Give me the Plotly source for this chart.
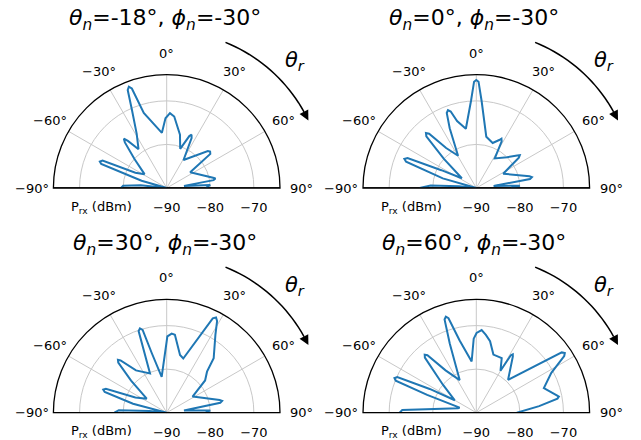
import math
import plotly.graph_objects as go

W, H = 641, 440

# ---------------- data ----------------
theta_1 = [-90, -87, -84, -80, -74, -69.9, -68.4, -66.9, -64, -58, -48, -42.5, -41, -39.5, -36, -29, -24, -21.7, -20.5, -19.3, -17, -5, -1, 2.5, 6, 14, 19, 23.5, 25, 26.5, 31, 48, 50, 52, 56, 77.5, 79, 80.5, 83, 86, 90]
r_1 = [-79.5, -80, -84, -90, -84, -74, -73.5, -74, -82, -84, -80, -75.8, -75, -76, -79, -75.8, -70.4, -65.8, -65.2, -65.8, -72, -77.3, -74, -72.8, -73.5, -77.4, -80.5, -77, -76.5, -77.2, -82.5, -77.3, -77, -77.3, -83.5, -79.1, -78.6, -79.1, -86, -80, -81]

theta_2 = [-90, -87, -84, -80, -74, -69.5, -68, -66.5, -63, -56, -48, -44, -42.5, -41, -37, -29.5, -24, -21.5, -20, -18.5, -16, -10, -3.5, -1.2, 0, 1.2, 3.5, 11, 20, 25.5, 27, 28.5, 32, 45, 51.5, 53, 54.5, 62, 77.5, 79, 80.5, 83, 87, 90]
r_2 = [-77, -79.5, -86, -90, -82, -72.8, -72.2, -72.8, -81, -86, -80, -73.5, -72.9, -73.5, -78.5, -81.5, -75, -71.5, -71, -71.5, -74, -76.2, -70, -65.6, -65.2, -65.6, -70, -78, -79, -77.8, -77.3, -77.8, -82, -80, -78, -77.5, -78, -83, -77.5, -77, -77.5, -86, -80, -82]

theta_3 = [-90, -87, -84, -80, -75, -71.5, -70, -68.5, -64, -55, -48, -44, -42.7, -41.4, -36, -23, -19, -17.6, -16.2, -14, -8, 0.5, 3.6, 6, 13, 17, 26, 27.4, 28.8, 32, 40.8, 44.5, 50, 58, 76.5, 78, 79.5, 83, 87, 90]
r_3 = [-78, -79, -86, -90, -82, -75, -74.5, -75, -82, -84.4, -79, -74, -73.5, -74, -78, -80.2, -70.2, -69.7, -70.2, -76, -81.7, -72.5, -71.8, -72, -76.4, -77, -65.9, -65.4, -66, -68.9, -73.5, -76.8, -78.5, -83, -77.5, -77, -77.5, -86, -80, -81]

theta_4 = [-90, -88, -76.5, -73, -70, -68.3, -67, -65.7, -63, -60, -50, -43, -41.7, -40.4, -36, -27, -21, -18.8, -17.6, -16.4, -13, -5.2, -2, 0.2, 3.7, 7, 10.9, 16.4, 25, 30, 31, 32, 33, 44, 54.8, 56, 57.2, 62, 70, 77.8, 79, 80.2, 84, 90]
r_4 = [-72.4, -73, -85.7, -86, -78, -70.1, -69.6, -70.1, -78, -84.3, -80, -72.7, -72.2, -72.7, -78, -81.6, -73, -67.4, -66.9, -67.4, -73, -78.2, -73, -71.7, -71, -72, -73.3, -76.1, -76.2, -78.9, -74.6, -74.2, -74.6, -79.5, -66, -65.5, -66, -70.5, -73.5, -71.1, -70.7, -71.1, -75.5, -80.7]

theta_n = ["-18", "0", "30", "60"]
phi_n = ["-30", "-30", "-30", "-30"]

angle_ticks = [-90, -60, -30, 0, 30, 60, 90]
angle_ticktext = ["\u221290\u00b0", "\u221260\u00b0", "\u221230\u00b0", "0\u00b0", "30\u00b0", "60\u00b0", "90\u00b0"]
r_ticks = [-90, -80, -70]
r_min, r_max = -90, -64

# ---------------- layout geometry ----------------
centers = [(166.7, 188.0), (476.3, 188.0), (166.7, 412.7), (476.3, 412.7)]
R = 113.3
LABEL_R = 135
FONT = "DejaVu Sans"
BLUE = "#1f77b4"
GRID = "#c8c8c8"

thetas = [theta_1, theta_2, theta_3, theta_4]
rs = [r_1, r_2, r_3, r_4]

fig = go.Figure()
annotations = []
shapes = []
layout_polars = {}

for i in range(4):
    sp = "polar" if i == 0 else f"polar{i+1}"
    cx, cy = centers[i]
    # frame (bottom diameter)
    fig.add_trace(go.Scatterpolar(
        theta=[angle_ticks[0], angle_ticks[0], angle_ticks[-1]],
        r=[r_max, r_min, r_max], mode="lines",
        line=dict(color="black", width=1.3), subplot=sp,
        hoverinfo="skip", showlegend=False, cliponaxis=False))
    fig.add_trace(go.Scatterpolar(
        theta=thetas[i], r=rs[i], mode="lines",
        line=dict(color=BLUE, width=2), subplot=sp,
        showlegend=False, cliponaxis=False))

    layout_polars[sp] = dict(
        domain=dict(x=[(cx - R) / W, (cx + R) / W], y=[1 - cy / H, 1 - (cy - R) / H]),
        sector=[0, 180],
        bgcolor="white",
        angularaxis=dict(
            rotation=90, direction="clockwise",
            tickmode="array", tickvals=angle_ticks, ticktext=angle_ticktext,
            showticklabels=False,
            showline=True, linecolor="black", linewidth=1.3,
            showgrid=True, gridcolor=GRID, gridwidth=1, ticks=""),
        radialaxis=dict(
            range=[r_min, r_max], tickmode="array", tickvals=r_ticks,
            angle=0, side="clockwise", showline=False,
            showgrid=True, gridcolor=GRID, gridwidth=1,
            ticks="outside", ticklen=8, tickcolor="rgba(0,0,0,0)",
            tickfont=dict(size=13, color="black", family=FONT)),
    )

    # angular tick labels, centred on the tick direction (matplotlib style)
    for tv, tt in zip(angle_ticks, angle_ticktext):
        a = math.radians(tv)
        annotations.append(dict(
            x=(cx + LABEL_R * math.sin(a)) / W, y=1 - (cy - LABEL_R * math.cos(a)) / H,
            xref="paper", yref="paper", showarrow=False,
            xanchor="center", yanchor="middle", text=tt,
            font=dict(size=13, color="black", family=FONT)))

    # title
    annotations.append(dict(
        x=(cx - 2) / W, y=1 - 20 / H if i < 2 else 1 - 244 / H,
        xref="paper", yref="paper", showarrow=False,
        xanchor="center", yanchor="middle",
        text=f"<i>\u03b8<sub>n</sub></i>={theta_n[i]}\u00b0, <i>\u03d5<sub>n</sub></i>={phi_n[i]}\u00b0",
        font=dict(size=22, color="black", family=FONT)))
    # Prx label
    annotations.append(dict(
        x=(cx - 65) / W, y=1 - (cy + 19) / H, xref="paper", yref="paper",
        showarrow=False, xanchor="center", yanchor="middle",
        text="P<sub>rx</sub> (dBm)", font=dict(size=13, color="black", family=FONT)))
    # theta_r label
    annotations.append(dict(
        x=(cx + 128) / W, y=1 - (cy - 127) / H, xref="paper", yref="paper",
        showarrow=False, xanchor="center", yanchor="middle",
        text="<i>\u03b8<sub>r</sub></i>", font=dict(size=21, color="black", family=FONT)))
    # curved arrow around the panel
    RA = 157
    pts = []
    for k in range(21):
        a = math.radians(22 + (61 - 22) * k / 20)
        px = cx + RA * math.sin(a)
        py = cy - RA * math.cos(a)
        pts.append((px / W, 1 - py / H))
    path = "M " + " L ".join(f"{x:.5f},{y:.5f}" for x, y in pts)
    shapes.append(dict(type="path", path=path, xref="paper", yref="paper",
                       line=dict(color="black", width=1.5)))
    tip_a = math.radians(64.5)
    tail_a = math.radians(60.5)
    tx, ty = cx + RA * math.sin(tip_a), cy - RA * math.cos(tip_a)
    bx, by = cx + RA * math.sin(tail_a), cy - RA * math.cos(tail_a)
    annotations.append(dict(
        x=tx / W, y=1 - ty / H, xref="paper", yref="paper", text="",
        showarrow=True, ax=bx - tx, ay=by - ty, arrowhead=2, arrowsize=1.3,
        arrowwidth=1.5, arrowcolor="black"))

fig.update_layout(
    width=W, height=H, margin=dict(l=0, r=0, t=0, b=0),
    paper_bgcolor="white", plot_bgcolor="white",
    font=dict(family=FONT, color="black"),
    annotations=annotations, shapes=shapes, showlegend=False,
    **layout_polars)

fig.write_html("out.html", config={"displayModeBar": False},
               post_script="document.body.style.margin='0px';")
